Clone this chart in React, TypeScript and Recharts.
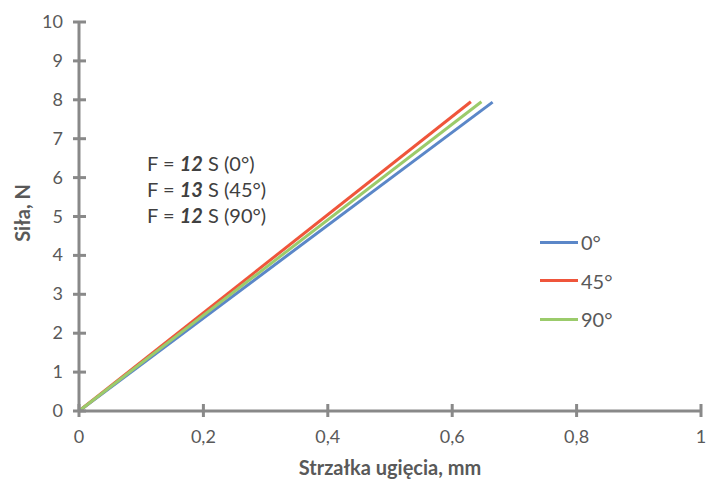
import { LineChart, Line, XAxis, YAxis } from "recharts";

// deflection (mm) read at start and end of each trace
const defl0 = [0, 0.665];
const force0 = [0, 7.94];
const defl45 = [0, 0.63];
const force45 = [0, 7.95];
const defl90 = [0, 0.647];
const force90 = [0, 7.95];

const xTicks = [0, 0.2, 0.4, 0.6, 0.8, 1];
const yTicks = [0, 1, 2, 3, 4, 5, 6, 7, 8, 9, 10];

const series = [
  { name: "0°", color: "#5B87C8", xs: defl0, ys: force0 },
  { name: "45°", color: "#EF553B", xs: defl45, ys: force45 },
  { name: "90°", color: "#9BCB6B", xs: defl90, ys: force90 },
];

const FONT = "Lato, 'Open Sans', sans-serif";
const AXIS = "#898989";
const TEXT = "#595959";

const fmt = (v: number) => String(v).replace(".", ",");

function YTick({ x, y, payload }: any) {
  return (
    <g>
      <line x1={x - 6} x2={x + 7} y1={y} y2={y} stroke={AXIS} strokeWidth={3} />
      <text x={x - 16} y={y} dy={6} textAnchor="end" fill={TEXT} fontSize={18} fontFamily={FONT}>
        {fmt(payload.value)}
      </text>
    </g>
  );
}

function XTick({ x, y, payload }: any) {
  return (
    <g>
      <line x1={x} x2={x} y1={y - 7} y2={y + 6} stroke={AXIS} strokeWidth={3} />
      <text x={x} y={y + 32} textAnchor="middle" fill={TEXT} fontSize={18} fontFamily={FONT}>
        {fmt(payload.value)}
      </text>
    </g>
  );
}

const notes = [
  ["12", "0°"],
  ["13", "45°"],
  ["12", "90°"],
];

export default function App() {
  return (
    <div style={{ position: "absolute", left: 0, top: 0, width: 706, height: 480, background: "#fff" }}>
      <LineChart width={706} height={480} margin={{ top: 22, right: 5, bottom: 29, left: 0 }}>
        <XAxis
          type="number"
          dataKey="x"
          domain={[0, 1]}
          ticks={xTicks}
          axisLine={{ stroke: AXIS, strokeWidth: 3 }}
          tickLine={false}
          tickSize={0}
          tickMargin={0}
          tick={<XTick />}
          height={40}
          allowDuplicatedCategory={false}
        />
        <YAxis
          type="number"
          dataKey="y"
          domain={[0, 10]}
          ticks={yTicks}
          axisLine={{ stroke: AXIS, strokeWidth: 3 }}
          tickLine={false}
          tickSize={0}
          tickMargin={0}
          tick={<YTick />}
          width={79}
        />
        {series.map((s) => (
          <Line
            key={s.name}
            name={s.name}
            data={s.xs.map((x, i) => ({ x, y: s.ys[i] }))}
            dataKey="y"
            stroke={s.color}
            strokeWidth={3}
            dot={false}
            isAnimationActive={false}
          />
        ))}
      </LineChart>
      <div style={{ position: "absolute", left: 540, top: 223, fontFamily: FONT, fontSize: 20, color: TEXT }}>
        {series.map((s) => (
          <div key={s.name} style={{ display: "flex", alignItems: "center", height: 38.5 }}>
            <div style={{ width: 38, height: 3, background: s.color, marginRight: 3 }} />
            <span>{s.name}</span>
          </div>
        ))}
      </div>
      <div
        style={{
          position: "absolute",
          left: 4,
          top: 113,
          width: 36,
          height: 200,
          display: "flex",
          alignItems: "center",
          justifyContent: "center",
        }}
      >
        <div
          style={{
            transform: "rotate(-90deg)",
            whiteSpace: "nowrap",
            fontFamily: FONT,
            fontWeight: 700,
            fontSize: 20,
            color: TEXT,
          }}
        >
          Siła, N
        </div>
      </div>
      <div
        style={{
          position: "absolute",
          left: 79,
          width: 622,
          top: 455,
          textAlign: "center",
          fontFamily: FONT,
          fontWeight: 700,
          fontSize: 20,
          color: TEXT,
        }}
      >
        Strzałka ugięcia, mm
      </div>
      <div
        style={{
          position: "absolute",
          left: 147,
          top: 150,
          fontFamily: FONT,
          fontSize: 20,
          color: "#404040",
          lineHeight: "26px",
        }}
      >
        {notes.map(([k, ang]) => (
          <div key={ang}>
            F = <b><i>{k}</i></b> S ({ang})
          </div>
        ))}
      </div>
    </div>
  );
}
